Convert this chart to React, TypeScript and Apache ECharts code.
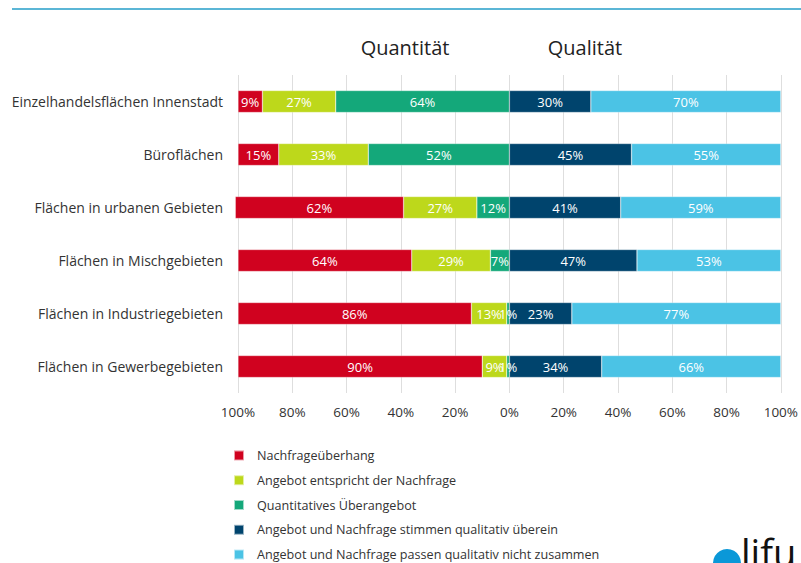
import React, { useEffect, useRef } from "react";
import * as echarts from "echarts";

const categories = [
  "Einzelhandelsflächen Innenstadt",
  "Büroflächen",
  "Flächen in urbanen Gebieten",
  "Flächen in Mischgebieten",
  "Flächen in Industriegebieten",
  "Flächen in Gewerbegebieten",
];

const seriesNames = [
  "Nachfrageüberhang",
  "Angebot entspricht der Nachfrage",
  "Quantitatives Überangebot",
  "Angebot und Nachfrage stimmen qualitativ überein",
  "Angebot und Nachfrage passen qualitativ nicht zusammen",
];

const nachfrageueberhang = [9, 15, 62, 64, 86, 90];
const angebotEntspricht = [27, 33, 27, 29, 13, 9];
const quantUeberangebot = [64, 52, 12, 7, 1, 1];
const qualStimmen = [30, 45, 41, 47, 23, 34];
const qualPassenNicht = [70, 55, 59, 53, 77, 66];

const xTicks = [-100, -80, -60, -40, -20, 0, 20, 40, 60, 80, 100];

const colors = ["#d0021f", "#bdd81b", "#14a87a", "#00446d", "#4bc3e5"];

const FONT = "'Open Sans', sans-serif";

export default function App() {
  const ref = useRef<HTMLDivElement>(null);

  useEffect(() => {
    if (!ref.current) return;
    const chart = echarts.init(ref.current, null, { renderer: "svg" });

    const mk = (name: string, values: number[], color: string, sign: number) => ({
      name,
      type: "bar",
      stack: "all",
      barWidth: 22,
      clip: false,
      data: values.map((v) => v * sign),
      itemStyle: { color, borderColor: "rgba(255,255,255,0.6)", borderWidth: 0.5 },
      label: {
        show: true,
        position: "inside",
        color: "#fff",
        fontSize: 13,
        fontFamily: FONT,
        formatter: (p: any) => Math.abs(p.value) + "%",
      },
    });

    chart.setOption({
      animation: false,
      textStyle: { fontFamily: FONT },
      grid: { left: 238, right: 18, top: 75, bottom: 170, containLabel: false },
      xAxis: {
        type: "value",
        min: xTicks[0],
        max: xTicks[xTicks.length - 1],
        interval: 20,
        axisLine: { show: false },
        axisTick: { show: false },
        splitLine: { show: true, lineStyle: { color: "#dedede", width: 1 } },
        axisLabel: {
          margin: 12,
          fontSize: 13.5,
          color: "#333",
          fontFamily: FONT,
          formatter: (v: number) => Math.abs(v) + "%",
        },
      },
      yAxis: {
        type: "category",
        data: categories,
        inverse: true,
        axisLine: { show: false },
        axisTick: { show: false },
        axisLabel: { margin: 15, fontSize: 14, color: "#333", fontFamily: FONT },
      },
      legend: {
        orient: "vertical",
        left: 228,
        top: 443,
        height: 150,
        itemWidth: 10,
        itemHeight: 10,
        itemGap: 10,
        icon: "rect",
        data: seriesNames,
        textStyle: { fontSize: 12.6, color: "#333", fontFamily: FONT, padding: [0, 0, 0, 8], lineHeight: 14.8 },
      },
      graphic: [
        { type: "line", shape: { x1: 12, y1: 9, x2: 801, y2: 9 }, style: { stroke: "#5bb6d6", lineWidth: 2 } },
        {
          type: "text",
          x: 405,
          y: 47,
          style: { text: "Quantität", fontSize: 20, fill: "#222", fontFamily: FONT, align: "center", verticalAlign: "middle" },
        },
        {
          type: "text",
          x: 585,
          y: 47,
          style: { text: "Qualität", fontSize: 20, fill: "#222", fontFamily: FONT, align: "center", verticalAlign: "middle" },
        },
        { type: "circle", shape: { cx: 727, cy: 563, r: 14 }, style: { fill: "#0a98d8" } },
        {
          type: "text",
          x: 741,
          y: 533,
          style: { text: "lifu", fontSize: 38, fill: "#111", fontFamily: FONT, align: "left", verticalAlign: "top" },
        },
      ],
      series: [
        mk(seriesNames[2], quantUeberangebot, colors[2], -1),
        mk(seriesNames[1], angebotEntspricht, colors[1], -1),
        mk(seriesNames[0], nachfrageueberhang, colors[0], -1),
        mk(seriesNames[3], qualStimmen, colors[3], 1),
        mk(seriesNames[4], qualPassenNicht, colors[4], 1),
      ],
    });

    return () => chart.dispose();
  }, []);

  return <div ref={ref} style={{ width: 801, height: 563, position: "absolute", left: 0, top: 0 }} />;
}
